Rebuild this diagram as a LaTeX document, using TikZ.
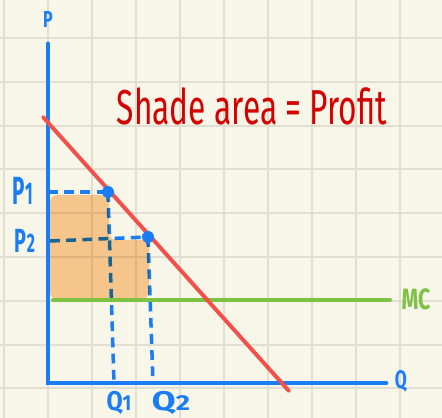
\documentclass[tikz,border=0pt]{standalone}
\usepackage{fontspec}
\setmainfont{Fira Sans}
\usepackage{xcolor}
\usepackage{tikz}
\usetikzlibrary{calc}

\definecolor{paper}{HTML}{F8F5E9}
\definecolor{gridline}{HTML}{E2DFD2}
\definecolor{axisblue}{HTML}{1A7DF4}
\definecolor{demandred}{HTML}{F2504B}
\definecolor{titlered}{HTML}{D50000}
\definecolor{mcgreen}{HTML}{7DC243}
\definecolor{profitfill}{HTML}{FCCE99}

% squeeze hand-written looking labels to a given box (cm)
\newcommand{\handbox}[3]{\resizebox{#1cm}{#2cm}{#3}}

\begin{document}
\begin{tikzpicture}[
    x=0.025cm, y=-0.025cm,
    every node/.style={inner sep=0pt},
    grid line/.style={gridline, line width=1.4pt},
    axis/.style={axisblue, line width=3.5pt, line cap=round},
    guide/.style={axisblue, line width=2.5pt, dash pattern=on 7pt off 4.5pt},
    demand/.style={demandred, line width=2.8pt, line cap=round},
    cost/.style={mcgreen, line width=2.8pt, line cap=round},
    profit/.style={fill=profitfill, rounded corners=5pt, blend mode=multiply},
    dot/.style={fill=axisblue},
    axislabel/.style={text=axisblue, font=\bfseries}
]

% paper and squares
\fill[paper] (0,0) rectangle (442,418);
\useasboundingbox (0,0) rectangle (442,418);
\foreach \gx in {4,48,...,400}
    \draw[grid line] (\gx,0) -- (\gx,418);
\foreach \k in {0,...,8}
    \draw[grid line] (0,38+43.8*\k) -- (442,38+43.8*\k);

\coordinate (O) at (48,383);
\coordinate (ptop) at (48,44);
\coordinate (qend) at (386,383);
\coordinate (pa) at (108,192);
\coordinate (pb) at (148,237);
\coordinate (q1) at (114,383);
\coordinate (q2) at (153,383);
\coordinate (p1) at (48,192);
\coordinate (p2) at (50,241);
\coordinate (dtop) at (43,117);
\coordinate (dbot) at (289,391);
\coordinate (mcl) at (53,300);
\coordinate (mcr) at (390,300);

% axes
\draw[axis] (ptop) -- (O) -- (qend);

% dashed guides
\draw[guide] (p1) -- (pa);
\draw[guide] (p2) -- (pb);
\draw[guide] (pa) -- (q1);
\draw[guide] (pb) -- (q2);

% shaded profit
\fill[profit] (50,195) -- (109,195) -- (109,240) -- (149,240)
    -- (149,299) -- (50,299) -- cycle;

% curves
\draw[cost] (mcl) -- (mcr);
\draw[demand] (dtop) -- (dbot);

\fill[dot] (pa) circle (6);
\fill[dot] (pb) circle (6);

% labels
\node[axislabel] (plabel) at (48,20) {\handbox{0.24}{0.4}{P}};
\node[axislabel] (qlabel) at (401,381) {\handbox{0.3}{0.45}{Q}};
\node[axislabel] (p1label) at (23,191) {\handbox{0.5}{0.68}{P{\footnotesize 1}}};
\node[axislabel] (p2label) at (25,241) {\handbox{0.5}{0.58}{P{\footnotesize 2}}};
\node[axislabel, anchor=north] (q1label) at (119,391) {\handbox{0.62}{0.48}{Q{\footnotesize 1}}};
\node[axislabel, anchor=north] (q2label) at (171,391) {\handbox{0.95}{0.48}{Q{\footnotesize 2}}};
\node[text=mcgreen, font=\bfseries] (mclabel) at (416,299) {\handbox{0.72}{0.52}{MC}};
\node[text=titlered] (title) at (252,106) {\handbox{6.75}{0.92}{Shade area = Profit}};

\end{tikzpicture}
\end{document}
